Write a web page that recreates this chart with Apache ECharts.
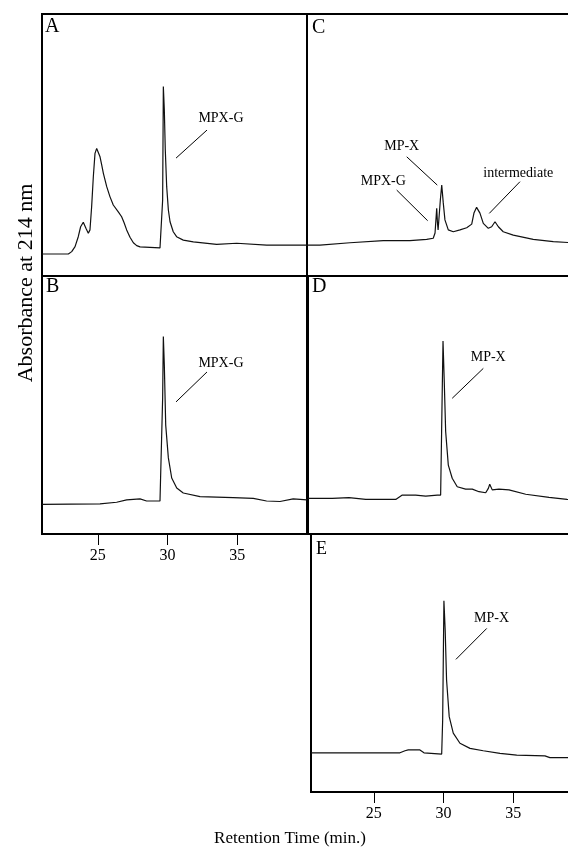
<!DOCTYPE html>
<html><head><meta charset="utf-8">
<script src="https://cdn.jsdelivr.net/npm/echarts@6/dist/echarts.min.js"></script>
<style>html,body{margin:0;padding:0;background:#fff}#c{width:568px;height:851px}</style>
</head><body><div id="c"></div>
<script>
const FONT = '"Liberation Serif","DejaVu Serif","Times New Roman",serif';
const xTicks = [25, 30, 35];
const xTitle = 'Retention Time (min.)';
const yTitle = 'Absorbance at 214 nm';

// [retention time (min), absorbance (relative units, 0-100 of panel)]
const traceA = [[21.0,8.4],[22.89,8.4],[23.13,9.3],[23.37,11.2],[23.6,15.0],[23.77,18.8],[23.96,20.5],[24.15,18.2],[24.32,16.3],[24.44,17.6],[24.56,26.5],[24.68,37.9],[24.8,46.8],[24.92,48.7],[25.04,48.1],[25.16,45.5],[25.28,42.4],[25.4,39.2],[25.64,34.1],[25.87,30.3],[26.11,27.1],[26.47,24.5],[26.71,22.6],[26.88,20.4],[27.07,17.6],[27.31,14.8],[27.55,12.7],[27.79,11.6],[28.03,11.1],[28.74,10.9],[29.46,10.7],[29.58,10.8],[29.65,29.0],[29.7,72.3],[29.77,63.4],[29.84,48.1],[29.94,34.1],[30.06,25.2],[30.18,20.7],[30.41,16.9],[30.65,15.0],[31.13,13.7],[31.85,13.0],[33.52,12.1],[34.96,12.5],[37.11,11.8],[40.0,11.8]];
const traceB = [[21.0,11.5],[25.16,11.7],[26.35,12.3],[27.07,13.2],[28.03,13.6],[28.5,12.8],[29.46,12.8],[29.58,13.2],[29.65,52.7],[29.7,76.5],[29.77,65.5],[29.87,42.2],[30.06,29.5],[30.3,21.7],[30.66,17.8],[31.13,15.9],[32.33,14.5],[34.71,14.1],[36.15,13.8],[37.1,12.8],[38.06,12.6],[39.01,13.6],[40.0,13.2]];
const traceC = [[20.5,11.8],[21.43,11.8],[23.58,12.7],[25.97,13.5],[27.88,13.5],[29.08,14.0],[29.55,14.4],[29.68,16.4],[29.8,25.8],[29.85,20.6],[29.9,17.6],[29.98,23.3],[30.06,29.0],[30.16,34.7],[30.27,27.9],[30.39,21.4],[30.63,17.6],[30.99,16.9],[31.47,17.6],[31.95,18.4],[32.31,19.8],[32.47,24.0],[32.66,26.2],[32.9,24.0],[33.14,20.1],[33.5,18.2],[33.74,18.8],[33.98,20.7],[34.22,18.8],[34.57,16.9],[35.29,15.6],[36.72,14.0],[38.16,13.1],[39.5,12.7]];
const traceD = [[20.5,13.8],[22.24,13.8],[23.44,14.1],[24.64,13.4],[26.79,13.4],[27.26,15.1],[28.22,15.1],[28.94,14.7],[29.77,15.1],[30.01,15.1],[30.08,39.7],[30.18,74.8],[30.27,59.0],[30.37,39.7],[30.56,26.7],[30.84,21.6],[31.2,18.3],[31.8,17.4],[32.28,17.4],[32.76,16.4],[33.24,16.0],[33.43,17.7],[33.53,19.3],[33.71,17.1],[34.19,17.4],[34.91,17.1],[36.11,15.4],[37.78,14.2],[39.07,13.4],[39.5,13.2]];
const traceE = [[20.5,15.2],[26.88,15.2],[27.24,16.0],[27.47,16.3],[28.31,16.3],[28.6,15.2],[29.87,14.7],[29.94,27.9],[30.03,74.1],[30.12,62.8],[30.22,43.4],[30.41,29.2],[30.7,22.8],[31.18,18.9],[31.9,16.9],[32.85,16.0],[34.05,15.0],[35.25,14.3],[37.27,14.0],[37.63,13.3],[38.92,13.3],[39.5,13.3]];

// peak annotations: [text, label centre, leader start, leader end] in data units
const notesA = [['MPX-G',[33.83,60.3],[32.83,55.7],[30.61,45.0]]];
const notesB = [['MPX-G',[33.83,66.3],[32.83,62.8],[30.61,51.2]]];
const notesC = [['MP-X',[27.29,49.6],[27.65,45.5],[29.84,34.7]],
                ['MPX-G',[25.97,36.0],[26.93,32.8],[29.15,21.1]],
                ['intermediate',[35.65,39.2],[35.77,36.0],[33.57,23.9]]];
const notesD = [['MP-X',[33.42,68.3],[33.07,64.2],[30.84,52.6]]];
const notesE = [['MP-X',[33.45,67.3],[33.1,63.4],[30.89,51.4]]];

const panelLetters = ['A','B','C','D','E'];
const traces = [traceA, traceB, traceC, traceD, traceE];
const notes = [notesA, notesB, notesC, notesD, notesE];
const xRanges = [[21,40],[21,40],[20.5,39.5],[20.5,39.5],[20.5,39.5]];
const showAxis = [false,true,false,false,true];
const grids = [
  {left:42, top:14, width:265, height:262},
  {left:42, top:276, width:265, height:258},
  {left:307, top:14, width:265, height:262},
  {left:308, top:276, width:265, height:258},
  {left:311, top:534, width:265, height:258}
];
const letterPos = [[45,17],[46,277],[312,18],[312,277],[316,540]];

const chart = echarts.init(document.getElementById('c'), null, {renderer:'canvas'});
const option = {
  animation:false,
  backgroundColor:'#fff',
  grid: grids.map(g => Object.assign({show:true, borderColor:'#000', borderWidth:2, backgroundColor:'transparent', containLabel:false, outerBoundsMode:'none'}, g)),
  xAxis: grids.map((g,i) => ({
    type:'value', gridIndex:i, min:xRanges[i][0], max:xRanges[i][1],
    axisLine:{show:false}, splitLine:{show:false},
    axisTick:{show:showAxis[i], customValues:xTicks, length:11, lineStyle:{color:'#000', width:1}},
    axisLabel:{show:showAxis[i], customValues:xTicks, margin:14, fontFamily:FONT, fontSize:16, color:'#000'}
  })),
  yAxis: grids.map((g,i) => ({type:'value', gridIndex:i, min:0, max:100, show:false})),
  title: panelLetters.map((t,i) => ({
    text:t, left:letterPos[i][0], top:letterPos[i][1], padding:0,
    textStyle:{fontFamily:FONT, fontSize: i===4?18:20, fontWeight:'normal', color:'#000'}
  })),
  graphic: [
    {type:'text', x:26, y:283, rotation:Math.PI/2,
     style:{text:yTitle, font:'22px '+FONT, fill:'#000', textAlign:'center', textVerticalAlign:'middle'}},
    {type:'text', x:290, y:839,
     style:{text:xTitle, font:'17px '+FONT, fill:'#000', textAlign:'center', textVerticalAlign:'middle'}}
  ],
  series: traces.map((d,i) => ({
    type:'line', xAxisIndex:i, yAxisIndex:i, data:d, showSymbol:false, symbol:'none',
    lineStyle:{color:'#111', width:1.2}, silent:true, clip:true,
    markLine:{silent:true, symbol:['none','none'], label:{show:false},
      lineStyle:{color:'#000', width:1, type:'solid'},
      data: notes[i].map(n => [{coord:n[2]},{coord:n[3]}])},
    markPoint:{silent:true, symbol:'circle', symbolSize:1, itemStyle:{color:'rgba(0,0,0,0)'},
      label:{show:true, position:'inside', formatter:p=>p.name, fontFamily:FONT, fontSize:14, color:'#000'},
      data: notes[i].map(n => ({name:n[0], coord:n[1]}))}
  }))
};
chart.setOption(option);
</script></body></html>
